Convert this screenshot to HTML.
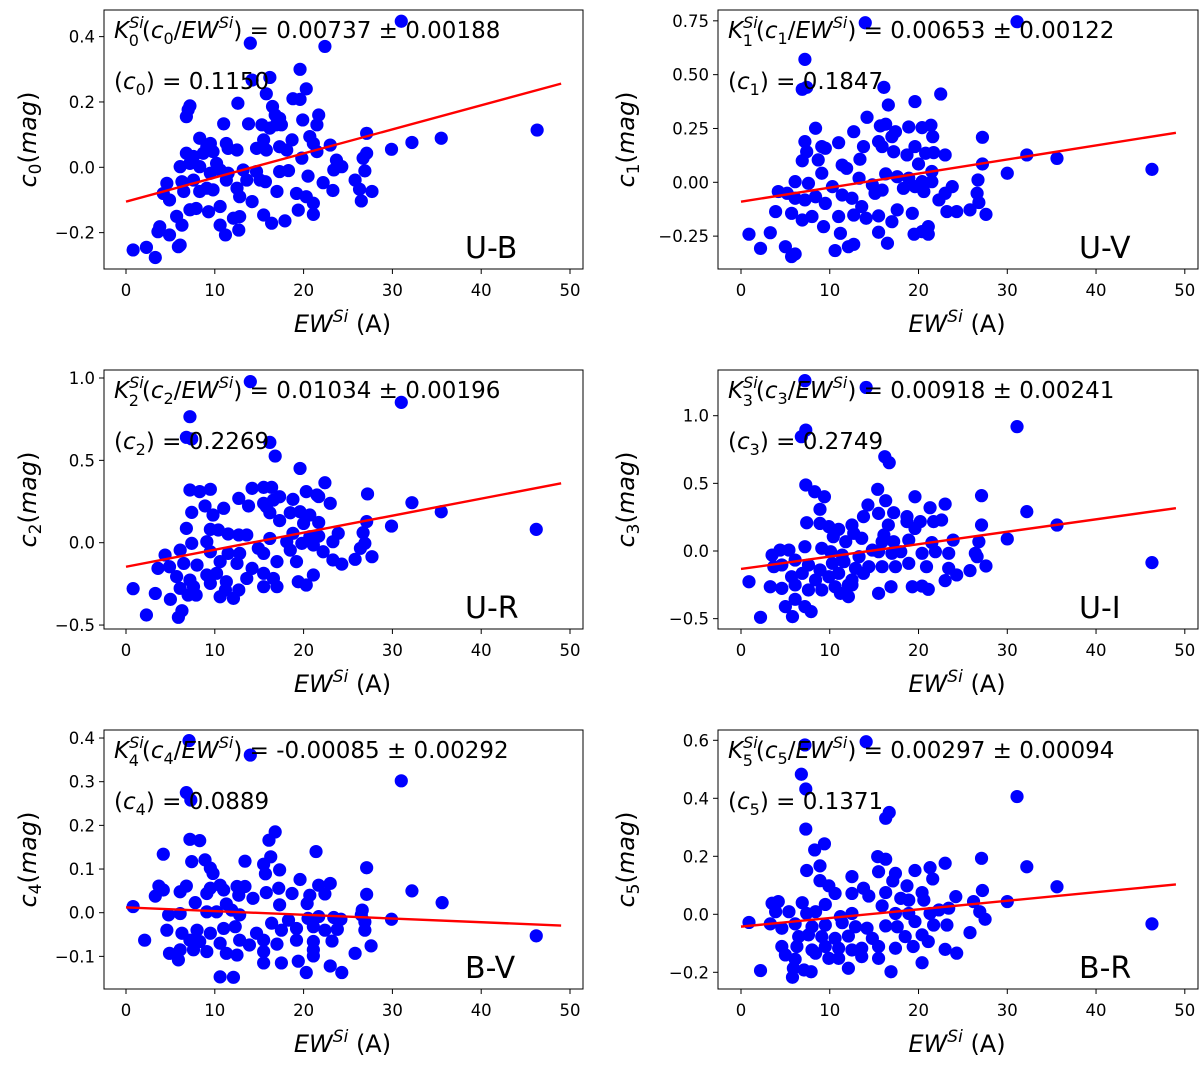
<!DOCTYPE html>
<html><head><meta charset="utf-8"><style>
html,body{margin:0;padding:0;background:#fff;}
svg{display:block;font-family:"DejaVu Sans","Liberation Sans",sans-serif;}
</style></head><body>
<svg id="fig" width="1200" height="1085" viewBox="0 0 1200 1085" xmlns="http://www.w3.org/2000/svg"></svg>
<script>
// ---- data ----
const xTicks = [0,10,20,30,40,50];
const panelNames = ["U-B","U-V","U-R","U-I","B-V","B-R"];
const slopes = [0.00737,0.00653,0.01034,0.00918,-0.00085,0.00297];
const slopeErrs = ["0.00737 ± 0.00188","0.00653 ± 0.00122","0.01034 ± 0.00196","0.00918 ± 0.00241","-0.00085 ± 0.00292","0.00297 ± 0.00094"];
const intercepts = [-0.105,-0.09,-0.146,-0.133,0.0122,-0.0425];
const meanLabels = ["0.1150","0.1847","0.2269","0.2749","0.0889","0.1371"];
const yTicks0 = [0.4,0.2,0.0,-0.2];
const yTicks1 = [0.75,0.5,0.25,0.0,-0.25];
const yTicks2 = [1.0,0.5,0.0,-0.5];
const yTicks3 = [1.0,0.5,0.0,-0.5];
const yTicks4 = [0.4,0.3,0.2,0.1,0.0,-0.1];
const yTicks5 = [0.6,0.4,0.2,0.0,-0.2];
const yTickLabels0 = ["0.4","0.2","0.0","−0.2"];
const yTickLabels1 = ["0.75","0.50","0.25","0.00","−0.25"];
const yTickLabels2 = ["1.0","0.5","0.0","−0.5"];
const yTickLabels3 = ["1.0","0.5","0.0","−0.5"];
const yTickLabels4 = ["0.4","0.3","0.2","0.1","0.0","−0.1"];
const yTickLabels5 = ["0.6","0.4","0.2","0.0","−0.2"];

const ewUB = [31.0,14.0,22.4,19.6,16.2,14.2,20.3,15.8,18.8,19.6,12.6,7.2,7.0,6.8,16.5,16.8,17.3,16.9,16.2,17.5,21.7,21.5,19.9,11.0,13.8,15.3,46.3,27.1,35.5,32.2,29.9,8.3,9.5,9.1,11.3,8.7,9.8,18.7,20.7,21.1,23.0,21.5,19.8,14.7,15.5,15.8,17.3,18.1,6.8,7.6,12.5,11.5,27.1,26.7,23.7,24.3,23.4,6.1,7.2,10.2,8.3,9.5,10.6,13.2,13.6,14.7,15.1,15.7,17.3,18.3,20.5,26.9,4.6,6.3,7.6,9.1,6.5,8.3,9.8,12.5,12.8,4.2,4.9,11.3,11.5,17.0,19.2,20.3,21.1,14.2,22.2,23.3,25.8,26.3,27.7,26.5,10.6,5.7,7.2,7.9,9.3,6.3,15.5,19.4,21.1,12.1,12.8,12.7,10.6,11.2,16.4,17.9,3.8,3.6,4.9,6.1,5.9,0.8,2.3,3.3];
const cUB = [0.447,0.38,0.37,0.30,0.275,0.267,0.24,0.225,0.21,0.208,0.196,0.188,0.176,0.155,0.186,0.16,0.15,0.13,0.12,0.13,0.16,0.13,0.145,0.133,0.133,0.13,0.114,0.104,0.089,0.076,0.055,0.089,0.073,0.063,0.073,0.043,0.048,0.084,0.094,0.073,0.068,0.048,0.028,0.058,0.084,0.053,0.063,0.053,0.043,0.033,0.053,0.058,0.043,0.028,0.022,0.002,-0.008,0.002,0.012,0.012,0.002,-0.018,-0.008,-0.008,-0.039,-0.013,-0.039,-0.044,-0.013,-0.01,-0.027,-0.011,-0.049,-0.044,-0.039,-0.064,-0.074,-0.074,-0.069,-0.064,-0.09,-0.08,-0.1,-0.039,-0.018,-0.074,-0.08,-0.09,-0.11,-0.105,-0.047,-0.071,-0.039,-0.067,-0.074,-0.103,-0.12,-0.15,-0.13,-0.126,-0.136,-0.177,-0.146,-0.131,-0.144,-0.156,-0.151,-0.192,-0.177,-0.207,-0.171,-0.164,-0.182,-0.197,-0.207,-0.238,-0.243,-0.253,-0.245,-0.276];

const ewUV = [14.0,31.1,7.2,6.9,7.4,16.1,22.5,19.6,16.6,14.2,8.4,12.7,15.7,16.3,17.4,17.0,18.9,20.4,21.4,21.6,27.2,7.2,9.1,9.5,11.0,13.8,7.4,15.5,15.9,17.2,18.7,19.6,20.8,21.7,23.0,32.2,35.6,6.9,8.7,13.4,11.4,11.9,27.2,20.0,30.0,46.3,9.1,6.1,7.6,10.3,13.3,14.8,16.3,17.6,18.9,20.4,21.5,26.7,4.2,5.2,3.9,6.1,7.2,8.4,9.5,11.4,12.5,13.6,15.1,15.9,18.3,19.6,20.6,21.5,23.8,23.0,22.3,26.6,26.8,25.8,27.6,23.2,24.3,5.7,6.9,8.0,9.3,11.0,12.7,14.1,15.5,17.0,17.6,19.3,11.2,15.5,19.5,20.4,21.1,21.1,12.1,12.7,16.5,10.6,0.9,2.2,3.3,5.0,6.1,5.7];
const cUV = [0.741,0.746,0.571,0.432,0.441,0.441,0.41,0.375,0.359,0.302,0.251,0.235,0.262,0.27,0.235,0.212,0.257,0.254,0.265,0.212,0.209,0.189,0.166,0.158,0.184,0.166,0.142,0.189,0.166,0.142,0.127,0.166,0.135,0.138,0.127,0.127,0.111,0.1,0.104,0.107,0.08,0.065,0.085,0.085,0.042,0.06,0.042,0.003,-0.005,-0.02,0.019,-0.012,0.039,0.026,0.019,0.003,0.05,0.011,-0.043,-0.051,-0.136,-0.074,-0.082,-0.067,-0.098,-0.059,-0.074,-0.113,-0.051,-0.036,-0.028,-0.02,-0.043,0.003,-0.02,-0.051,-0.082,-0.051,-0.094,-0.128,-0.149,-0.136,-0.136,-0.144,-0.175,-0.159,-0.206,-0.159,-0.152,-0.167,-0.156,-0.183,-0.128,-0.144,-0.237,-0.232,-0.241,-0.229,-0.206,-0.241,-0.299,-0.288,-0.283,-0.317,-0.241,-0.307,-0.234,-0.299,-0.333,-0.345];

const ewUR = [14.0,31.0,7.2,6.8,7.4,16.2,16.8,19.6,22.4,7.2,8.3,9.5,14.2,15.5,16.4,27.2,20.3,21.5,21.7,12.7,17.3,16.6,18.8,32.2,23.0,8.9,11.0,13.8,15.5,15.8,35.5,7.4,9.8,16.2,18.5,19.6,20.7,17.3,20.0,21.7,27.1,29.9,6.8,9.5,10.4,11.5,12.7,13.6,46.2,18.8,20.7,21.7,23.9,26.7,7.4,9.1,16.2,18.1,19.8,21.1,23.3,26.9,26.4,4.4,6.1,9.5,11.5,12.8,14.9,15.5,17.0,18.5,19.2,22.2,23.3,24.3,25.8,27.7,3.6,4.9,6.5,8.0,10.6,12.5,14.2,15.5,16.6,21.1,5.7,7.2,9.1,10.2,13.6,11.3,6.1,7.6,9.5,11.2,15.5,17.0,19.4,20.3,0.8,3.3,7.0,7.9,10.6,12.1,12.7,5.0,6.3,5.9,2.3];
const cUR = [0.978,0.852,0.765,0.64,0.63,0.609,0.526,0.451,0.364,0.32,0.31,0.324,0.33,0.336,0.336,0.296,0.31,0.29,0.28,0.269,0.279,0.259,0.263,0.243,0.239,0.223,0.209,0.223,0.239,0.219,0.188,0.184,0.168,0.182,0.182,0.188,0.168,0.134,0.117,0.123,0.128,0.101,0.087,0.081,0.077,0.053,0.047,0.047,0.081,0.057,0.036,0.04,0.057,0.061,-0.004,0.006,0.026,0.006,-0.004,-0.014,0.006,-0.004,-0.034,-0.075,-0.045,-0.055,-0.065,-0.065,-0.034,-0.065,-0.115,-0.045,-0.115,-0.055,-0.105,-0.13,-0.101,-0.085,-0.156,-0.146,-0.126,-0.136,-0.115,-0.126,-0.156,-0.186,-0.217,-0.196,-0.206,-0.227,-0.196,-0.186,-0.217,-0.237,-0.277,-0.267,-0.247,-0.287,-0.267,-0.267,-0.237,-0.257,-0.279,-0.308,-0.318,-0.318,-0.328,-0.338,-0.287,-0.344,-0.413,-0.453,-0.439];

const ewUI = [7.2,14.1,31.1,7.3,6.8,16.2,16.7,7.3,8.3,9.4,15.4,19.6,16.3,27.1,23.0,21.3,14.3,8.9,32.2,13.8,15.5,17.2,18.7,7.4,8.9,9.9,11.0,12.5,12.7,16.6,16.1,18.7,20.2,21.7,22.6,19.6,27.1,35.6,30.0,10.4,11.8,13.6,15.9,17.2,18.9,21.5,23.9,26.8,3.5,4.4,5.4,7.2,9.1,10.1,11.4,13.3,14.8,15.5,17.0,18.0,20.4,21.9,23.4,26.4,26.6,3.7,4.6,6.1,7.6,8.9,10.3,11.6,12.9,14.4,15.9,17.4,18.9,20.9,23.4,27.6,25.8,5.7,6.9,8.4,9.9,11.0,12.5,13.8,0.9,3.3,4.6,6.1,7.6,9.1,10.6,12.1,12.5,23.0,24.3,16.9,19.3,20.4,21.1,15.5,11.2,12.1,46.3,6.1,7.2,7.9,5.0,5.8,2.2];
const cUI = [1.259,1.209,0.919,0.894,0.845,0.697,0.653,0.488,0.438,0.401,0.456,0.401,0.372,0.409,0.347,0.32,0.34,0.308,0.291,0.254,0.278,0.283,0.254,0.209,0.204,0.18,0.16,0.192,0.131,0.192,0.118,0.217,0.217,0.217,0.229,0.167,0.192,0.192,0.089,0.106,0.069,0.094,0.069,0.069,0.081,0.062,0.081,0.069,-0.03,0.007,0.007,0.032,0.02,-0.005,-0.03,-0.042,0.007,-0.005,-0.017,-0.005,-0.017,-0.005,-0.017,-0.017,-0.042,-0.116,-0.103,-0.067,-0.103,-0.14,-0.091,-0.079,-0.128,-0.116,-0.116,-0.116,-0.091,-0.116,-0.128,-0.111,-0.145,-0.19,-0.165,-0.214,-0.19,-0.165,-0.214,-0.165,-0.227,-0.264,-0.276,-0.251,-0.288,-0.288,-0.264,-0.251,-0.251,-0.219,-0.177,-0.264,-0.264,-0.259,-0.283,-0.313,-0.313,-0.337,-0.086,-0.357,-0.411,-0.448,-0.411,-0.485,-0.49];

const ewBV = [7.1,14.0,31.0,6.8,7.3,16.8,16.1,7.2,8.3,4.2,21.4,7.4,8.9,9.5,9.8,13.4,15.5,16.3,15.7,17.3,27.1,19.6,21.7,23.0,3.7,4.2,3.3,6.8,6.1,9.1,9.5,10.6,11.0,12.5,13.4,12.7,14.3,15.8,17.2,18.7,20.7,22.4,32.2,27.1,35.6,0.8,7.8,11.3,17.3,20.4,26.6,26.5,4.8,6.1,9.1,10.2,12.8,11.9,29.9,16.4,18.3,20.5,21.7,23.4,24.2,26.9,4.6,6.3,8.0,9.5,11.0,12.3,14.7,17.5,19.2,21.1,22.4,23.8,26.9,2.1,7.2,8.3,10.6,12.8,13.9,15.5,17.0,19.2,21.1,46.2,23.2,4.9,6.1,7.6,9.1,11.3,12.5,15.5,21.1,21.1,25.8,27.6,5.9,15.5,17.5,19.4,23.0,20.3,24.3,10.6,12.1];
const cBV = [0.394,0.361,0.302,0.275,0.258,0.185,0.166,0.168,0.165,0.134,0.14,0.117,0.121,0.102,0.09,0.118,0.111,0.128,0.089,0.098,0.103,0.076,0.063,0.067,0.061,0.052,0.038,0.061,0.048,0.044,0.056,0.063,0.052,0.06,0.06,0.04,0.033,0.046,0.056,0.044,0.04,0.043,0.05,0.042,0.023,0.014,0.023,0.02,0.018,0.021,0.006,-0.005,-0.005,-0.002,0.002,0.002,-0.005,0.006,-0.015,-0.024,-0.017,-0.013,-0.009,-0.011,-0.015,-0.021,-0.04,-0.047,-0.04,-0.047,-0.036,-0.032,-0.047,-0.04,-0.036,-0.032,-0.04,-0.038,-0.04,-0.063,-0.063,-0.066,-0.07,-0.063,-0.074,-0.063,-0.072,-0.063,-0.066,-0.053,-0.065,-0.093,-0.085,-0.085,-0.089,-0.093,-0.097,-0.089,-0.085,-0.099,-0.093,-0.076,-0.108,-0.115,-0.115,-0.111,-0.122,-0.137,-0.137,-0.147,-0.148];

const ewBR = [14.1,7.2,6.8,7.3,31.1,16.3,16.7,7.3,8.3,9.4,15.4,16.3,27.1,23.0,8.9,7.4,21.3,21.6,19.6,17.4,15.5,17.1,32.2,12.5,8.9,9.9,18.7,35.6,27.2,13.8,12.5,10.6,14.4,16.3,20.4,20.6,18.0,18.9,24.2,30.0,3.5,4.2,6.9,9.5,15.9,26.2,23.4,26.9,3.9,5.4,7.4,8.4,11.2,12.5,17.4,18.9,21.3,22.3,0.9,3.3,27.5,46.3,4.6,6.1,8.0,9.5,11.4,12.9,14.2,16.3,17.6,19.6,21.7,23.2,25.8,6.5,7.6,9.1,10.6,12.1,14.8,18.5,20.4,21.1,4.6,6.3,8.0,9.5,11.0,12.5,13.6,15.5,17.4,19.4,23.0,24.3,5.0,6.1,8.4,9.9,11.0,13.6,15.5,20.4,12.1,16.9,2.2,5.9,7.1,7.9,5.8];
const cBR = [0.595,0.584,0.483,0.432,0.406,0.331,0.351,0.294,0.222,0.243,0.199,0.19,0.193,0.176,0.167,0.151,0.161,0.122,0.151,0.141,0.147,0.115,0.164,0.13,0.116,0.098,0.098,0.095,0.082,0.09,0.072,0.072,0.063,0.075,0.075,0.049,0.055,0.049,0.061,0.044,0.038,0.044,0.04,0.034,0.029,0.044,0.021,0.009,0.009,0.009,0.003,0.009,-0.008,0.003,0.003,0.003,0.003,0.015,-0.028,-0.033,-0.017,-0.033,-0.048,-0.033,-0.043,-0.037,-0.029,-0.043,-0.048,-0.04,-0.043,-0.025,-0.037,-0.037,-0.063,-0.077,-0.071,-0.077,-0.083,-0.075,-0.083,-0.077,-0.071,-0.094,-0.111,-0.111,-0.123,-0.111,-0.117,-0.123,-0.117,-0.111,-0.117,-0.111,-0.121,-0.134,-0.14,-0.155,-0.134,-0.152,-0.152,-0.146,-0.152,-0.167,-0.186,-0.198,-0.194,-0.186,-0.192,-0.198,-0.217];

const allX = [ewUB,ewUV,ewUR,ewUI,ewBV,ewBR];
const allY = [cUB,cUV,cUR,cUI,cBV,cBR];
const allTicks = [yTicks0,yTicks1,yTicks2,yTicks3,yTicks4,yTicks5];
const allTickLabels = [yTickLabels0,yTickLabels1,yTickLabels2,yTickLabels3,yTickLabels4,yTickLabels5];

// ---- layout (pixels) ----
const colGeom = [{left:104,right:583,x0:126,k:8.88,ylab:40},{left:718,right:1198,x0:741,k:8.876,ylab:638}];
const rowTops = [10,370,730];
const yGeom = [{zero:167.3,k:326.7},{zero:182.3,k:215.3},{zero:542.7,k:164.7},{zero:551,k:135.3},{zero:912.7,k:436.7},{zero:914.3,k:290}];

const NS = "http://www.w3.org/2000/svg";
const svg = document.getElementById('fig');
function mk(tag, attrs, parent){
  const e = document.createElementNS(NS, tag);
  for (const k in attrs) e.setAttribute(k, attrs[k]);
  (parent||svg).appendChild(e);
  return e;
}
function tsp(parent, txt, extra){
  const t = document.createElementNS(NS,'tspan');
  if (extra) for (const k in extra) t.setAttribute(k, extra[k]);
  t.textContent = txt;
  parent.appendChild(t);
  return t;
}

for (let p = 0; p < 6; p++){
  const col = colGeom[p % 2];
  const top = rowTops[Math.floor(p/2)];
  const bottom = top + 259;
  const yg = yGeom[p];
  const sx = v => col.x0 + v * col.k;
  const sy = v => yg.zero - v * yg.k;

  const g = mk('g', {});
  
  

  const cp = mk('clipPath', {id:'clip'+p}, g);
  mk('rect', {x:col.left, y:top, width:col.right-col.left, height:bottom-top}, cp);

  const pts = mk('g', {'clip-path':'url(#clip'+p+')'}, g);
  
  
  const xs = allX[p], ys = allY[p];
  for (let i = 0; i < xs.length; i++){
    const c = mk('circle', {cx:sx(xs[i]), cy:sy(ys[i]), r:6.6, fill:'#0000ff'}, pts);
    
    
  }
  const ln = mk('line', {x1:sx(0), y1:sy(intercepts[p]), x2:sx(49), y2:sy(intercepts[p]+slopes[p]*49), stroke:'#ff0000', 'stroke-width':2.4}, g);
  
  

  const fr = mk('rect', {x:col.left, y:top, width:col.right-col.left, height:bottom-top, fill:'none', stroke:'#000', 'stroke-width':1}, g);
  
  

  for (let i = 0; i < xTicks.length; i++){
    const x = sx(xTicks[i]);
    mk('line', {x1:x, y1:bottom, x2:x, y2:bottom+5, stroke:'#000', 'stroke-width':1}, g);
    const t = mk('text', {x:x, y:bottom+27, 'font-size':16.5, 'text-anchor':'middle', fill:'#000'}, g);
    
    
    t.textContent = String(xTicks[i]);
  }
  const yt = allTicks[p], ytl = allTickLabels[p];
  for (let i = 0; i < yt.length; i++){
    const y = sy(yt[i]);
    mk('line', {x1:col.left-5, y1:y, x2:col.left, y2:y, stroke:'#000', 'stroke-width':1}, g);
    const t = mk('text', {x:col.left-9, y:y+6, 'font-size':16.5, 'text-anchor':'end', fill:'#000'}, g);
    
    
    t.textContent = ytl[i];
  }
  const xl = mk('text', {x:(col.left+col.right)/2 - 1, y:bottom+63, 'font-size':24, 'text-anchor':'middle', fill:'#000'}, g);
  
  
  tsp(xl, 'EW', {'font-style':'italic'});
  tsp(xl, 'Si', {'font-style':'italic','font-size':17,dy:-10});
  tsp(xl, '  (A)', {dy:10});

  const cy = (top+bottom)/2;
  const yl = mk('text', {x:0, y:0, 'font-size':24, 'text-anchor':'middle', fill:'#000', transform:'translate('+(col.ylab-4)+','+cy+') rotate(-90)'}, g);
  
  
  tsp(yl, 'c', {'font-style':'italic'});
  tsp(yl, String(p), {'font-size':17, dy:5});
  tsp(yl, '(', {dy:-5});
  tsp(yl, 'mag', {'font-style':'italic'});
  tsp(yl, ')');

  const a1 = mk('text', {x:col.left+10, y:top+28, 'font-size':23, fill:'#000'}, g);
  
  
  tsp(a1, 'K', {'font-style':'italic'});
  tsp(a1, 'Si', {'font-style':'italic','font-size':16,dy:-10});
  tsp(a1, String(p), {'font-size':16, dx:-15, dy:18});
  tsp(a1, '(', {dx:3, dy:-8});
  tsp(a1, 'c', {'font-style':'italic'});
  tsp(a1, String(p), {'font-size':16, dy:6});
  tsp(a1, '/', {dy:-6});
  tsp(a1, 'EW', {'font-style':'italic'});
  tsp(a1, 'Si', {'font-style':'italic','font-size':16,dy:-10});
  tsp(a1, ') = ' + slopeErrs[p], {dy:10});

  const a2 = mk('text', {x:col.left+10, y:top+79, 'font-size':23, fill:'#000'}, g);
  
  
  tsp(a2, '(');
  tsp(a2, 'c', {'font-style':'italic'});
  tsp(a2, String(p), {'font-size':16, dy:6});
  tsp(a2, ') = ' + meanLabels[p], {dy:-6});

  const pl = mk('text', {x:col.left+361, y:top+248, 'font-size':30, fill:'#000'}, g);
  
  
  pl.textContent = panelNames[p];
}
</script>
</body></html>
